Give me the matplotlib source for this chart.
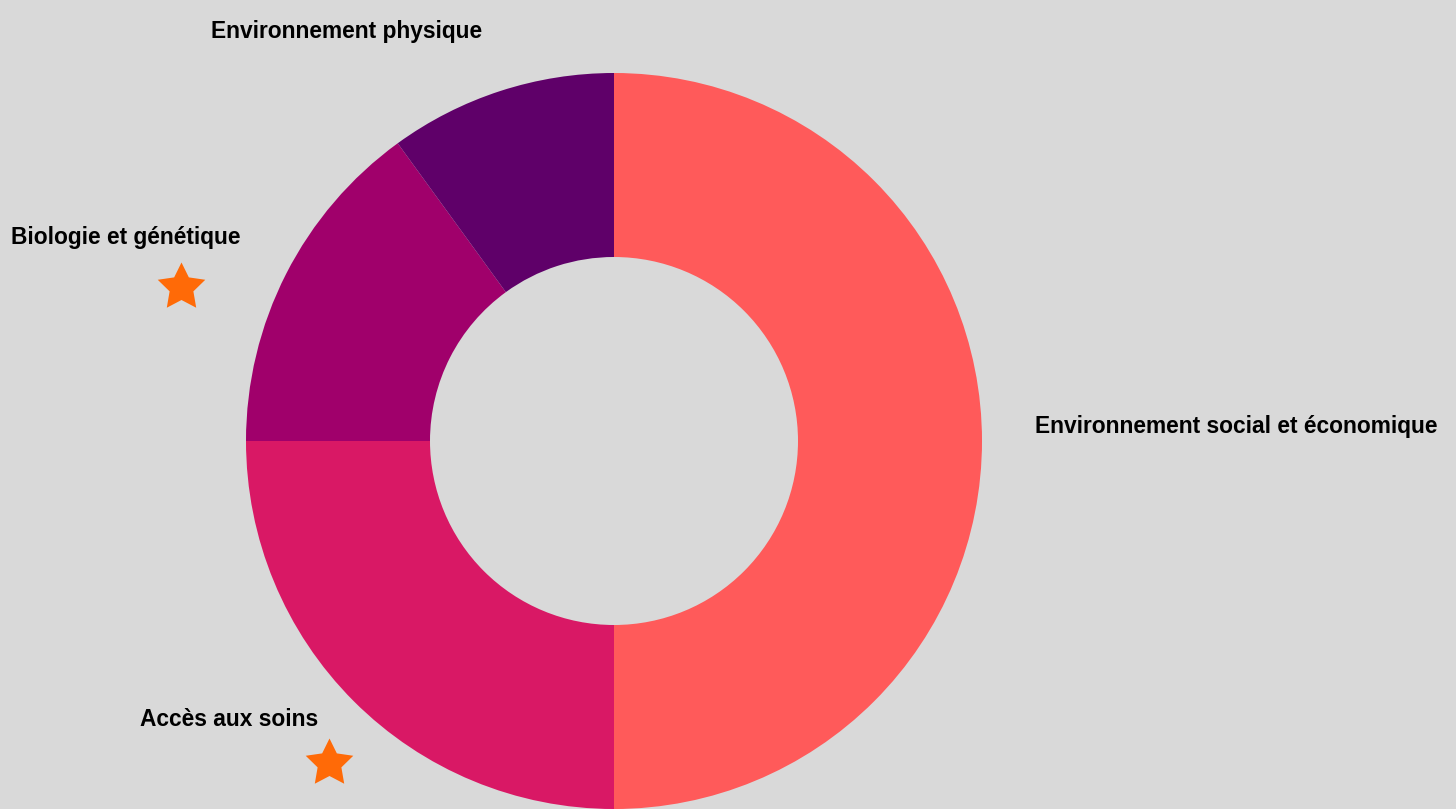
import matplotlib
matplotlib.use("Agg")
import matplotlib.pyplot as plt

categories = ["Environnement social et économique", "Accès aux soins",
              "Biologie et génétique", "Environnement physique"]
values = [50, 25, 15, 10]
colors = ["#FF5A5A", "#D91865", "#A0006B", "#5F0069"]
starred = ["Biologie et génétique", "Accès aux soins"]

W, H = 1456, 809
fig = plt.figure(figsize=(W / 100, H / 100), dpi=100, facecolor="#D9D9D9")
ax = fig.add_axes([0, 0, 1, 1])
ax.set_facecolor("#D9D9D9")

cx, cy, r = 614, H - 441, 368
ax.pie(values, colors=colors, startangle=90, counterclock=False,
       center=(cx, cy), radius=r, wedgeprops=dict(width=r * 0.5, linewidth=0),
       frame=True)
ax.set_xlim(0, W)
ax.set_ylim(0, H)
ax.set_aspect("equal")
ax.axis("off")

label_pos = {
    "Environnement social et économique": (1035, H - 426, "left"),
    "Accès aux soins": (140, H - 720, "left"),
    "Biologie et génétique": (11, H - 237, "left"),
    "Environnement physique": (211, H - 31, "left"),
}
star_pos = {
    "Biologie et génétique": (181, H - 287),
    "Accès aux soins": (329, H - 763),
}
font = dict(family=["Liberation Sans", "DejaVu Sans"], fontsize=16.4, fontweight="bold", color="#000000")
for c in categories:
    x, y, ha = label_pos[c]
    ax.text(x, y, c, ha=ha, va="center", **font)
for c in starred:
    x, y = star_pos[c]
    ax.plot([x], [y], marker=(5, 1, 0), markersize=36, color="#FF6A07", markeredgewidth=0)

fig.savefig("out.png", dpi=100, facecolor=fig.get_facecolor())
